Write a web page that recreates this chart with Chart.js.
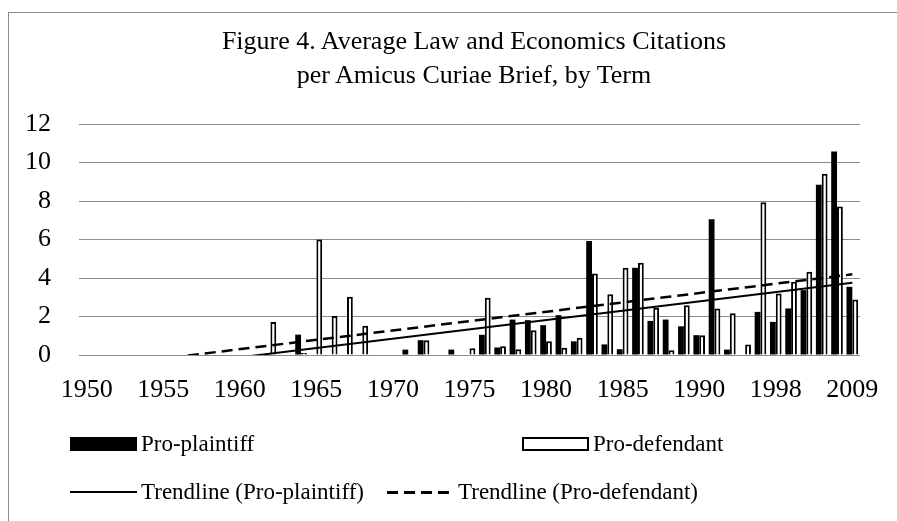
<!DOCTYPE html>
<html>
<head>
<meta charset="utf-8">
<script src="https://cdn.jsdelivr.net/npm/chart.js@4.4.0/dist/chart.umd.min.js"></script>
<style>
  body { margin: 0; background: #fff; }
  #page { position: relative; width: 897px; height: 521px; overflow: hidden; font-family: "Liberation Serif", serif; color: #000; }
  #frame { position: absolute; left: 8px; top: 12px; width: 900px; height: 520px; border-left: 1px solid #8c8c8c; border-top: 1px solid #8c8c8c; }
  #title { position: absolute; left: 0; width: 948px; top: 24px; text-align: center; font-size: 26px; line-height: 34px; }
  canvas { position: absolute; left: 0; top: 0; }
  .item { position: absolute; font-size: 23px; line-height: 30px; white-space: nowrap; }
  .sw { position: absolute; }
</style>
</head>
<body>
<div id="page">
  <div id="frame"></div>
  <canvas id="chart" width="897" height="521"></canvas>
  <div id="title">Figure 4. Average Law and Economics Citations<br>per Amicus Curiae Brief, by Term</div>
  <div id="legend"></div>
</div>
<script>
// termes (axe des catégories), une étiquette sur cinq est affichée
const terms = [
  1950, 1951, 1952, 1953, 1954, 1955, 1956, 1957, 1958, 1959,
  1960, 1961, 1962, 1963, 1964, 1965, 1966, 1967, 1968, 1969,
  1970, 1971, 1972, 1973, 1974, 1975, 1976, 1977, 1978, 1979,
  1980, 1981, 1982, 1983, 1984, 1985, 1986, 1987, 1988, 1989,
  1990, 1991, 1992, 1993, 1994, 1998, 2000, 2002, 2004, 2006, 2009
];

// moyennes pro-plaintiff (barres noires)
const proPlaintiff = [
  null, null, null, null, null, null, null, null, null, null,
  null, null, null, null, 1.06, null, null, null, null, null,
  null, 0.28, 0.77, null, 0.28, null, 1.05, 0.39, 1.84, 1.81,
  1.55, 2.07, 0.71, 5.92, 0.55, 0.30, 4.53, 1.77, 1.84, 1.49,
  1.03, 7.05, 0.28, null, 2.24, 1.72, 2.42, 3.37, 8.84, 10.57, 3.54
];

// moyennes pro-defendant (barres blanches)
const proDefendant = [
  null, null, null, null, null, null, null, null, null, null,
  null, null, 1.72, null, 0.10, 6.00, 2.02, 3.02, 1.52, null,
  null, null, 0.77, null, null, 0.35, 2.97, 0.45, 0.30, 1.29,
  0.71, 0.38, 0.90, 4.24, 3.15, 4.53, 4.79, 2.45, 0.25, 2.59,
  1.03, 2.42, 2.17, 0.54, 7.94, 3.20, 3.80, 4.32, 9.41, 7.71, 2.88
];

// extrémités des droites de tendance (premier et dernier terme)
const trendPlaintiffEnds = [-1.09, 3.75];
const trendDefendantEnds = [-0.67, 4.19];

const yTicks = [0, 2, 4, 6, 8, 10, 12];

function trendSeries(ends) {
  return terms.map((t, i) => i === 0 ? ends[0] : (i === terms.length - 1 ? ends[1] : null));
}

const serif = "'Liberation Serif', serif";

new Chart(document.getElementById('chart'), {
  data: {
    labels: terms,
    datasets: [
      {
        type: 'line',
        label: 'Trendline (Pro-plaintiff)',
        data: trendSeries(trendPlaintiffEnds),
        borderColor: '#000',
        borderWidth: 2,
        pointRadius: 0,
        spanGaps: true,
        order: 0
      },
      {
        type: 'line',
        label: 'Trendline (Pro-defendant)',
        data: trendSeries(trendDefendantEnds),
        borderColor: '#000',
        borderWidth: 2.5,
        borderDash: [11, 6],
        pointRadius: 0,
        spanGaps: true,
        order: 0
      },
      {
        type: 'bar',
        label: 'Pro-plaintiff',
        data: proPlaintiff,
        backgroundColor: '#000',
        borderWidth: 0,
        categoryPercentage: 0.76,
        barPercentage: 1.0,
        order: 1
      },
      {
        type: 'bar',
        label: 'Pro-defendant',
        data: proDefendant,
        backgroundColor: '#fff',
        borderColor: '#000',
        borderWidth: 2,
        categoryPercentage: 0.76,
        barPercentage: 1.0,
        order: 1
      }
    ]
  },
  options: {
    responsive: false,
    animation: false,
    layout: { padding: { left: 0, right: 37, top: 124, bottom: 121 } },
    plugins: {
      legend: { display: false },
      title: { display: false },
      tooltip: { enabled: false }
    },
    scales: {
      x: {
        grid: { display: false },
        border: { display: false },
        afterFit: s => { s.height = 45; },
        ticks: {
          autoSkip: false,
          maxRotation: 0,
          padding: 12,
          color: '#000',
          font: { family: serif, size: 26 },
          callback: (v, i) => i % 5 === 0 ? terms[i] : ''
        }
      },
      y: {
        min: 0,
        max: 12,
        afterFit: s => { s.width = 79; },
        afterBuildTicks: s => { s.ticks = yTicks.map(v => ({ value: v })); },
        grid: { color: '#8c8c8c', lineWidth: 1, drawTicks: false },
        border: { display: false },
        ticks: {
          padding: 28,
          color: '#000',
          font: { family: serif, size: 26 }
        }
      }
    }
  }
});

// légende en HTML (deux colonnes, deux lignes)
const legendItems = [
  { label: 'Pro-plaintiff', x: 70, y: 444, sw: 'background:#000;height:14px;top:-7px' },
  { label: 'Pro-defendant', x: 522, y: 444, sw: 'background:#fff;border:2px solid #000;height:10px;top:-7px;box-sizing:content-box;width:63px' },
  { label: 'Trendline (Pro-plaintiff)', x: 70, y: 492, sw: 'background:#000;height:2px;top:-1px' },
  { label: 'Trendline (Pro-defendant)', x: 387, y: 492, sw: 'background:repeating-linear-gradient(90deg,#000 0 11px,transparent 11px 17px);height:2.5px;top:-1px' }
];
const legend = document.getElementById('legend');
legendItems.forEach(it => {
  const sw = document.createElement('div');
  sw.className = 'sw';
  sw.style.cssText = 'position:absolute;left:' + it.x + 'px;top:' + it.y + 'px;width:67px;';
  const inner = document.createElement('div');
  inner.style.cssText = 'position:absolute;left:0;width:67px;' + it.sw;
  sw.appendChild(inner);
  legend.appendChild(sw);
  const t = document.createElement('div');
  t.className = 'item';
  t.style.left = (it.x + 71) + 'px';
  t.style.top = (it.y - 15) + 'px';
  t.textContent = it.label;
  legend.appendChild(t);
});
</script>
</body>
</html>
